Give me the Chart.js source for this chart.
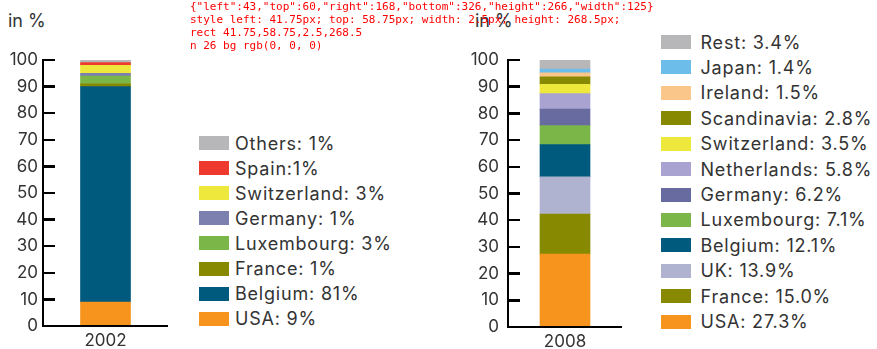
<!DOCTYPE html>
<html>
<head>
<meta charset="utf-8">
<script src="https://cdn.jsdelivr.net/npm/chart.js@4.4.1/dist/chart.umd.min.js"></script>
<style>
  body { margin: 0; background: #fff; }
  #wrap { position: relative; width: 877px; height: 349px; overflow: hidden; font-family: Inter, "Liberation Sans", sans-serif; color: #333; }
  #c2002 { position: absolute; left: 0; top: 0; }
  #c2008 { position: absolute; left: 440px; top: 0; }
  .unit { position: absolute; top: 12px; font-size: 18px; line-height: 18px; }
  .axis { position: absolute; background: #000; }
  .legend { position: absolute; margin: 0; padding: 0; list-style: none; font-size: 18px; letter-spacing: 0.8px; }
  .legend li { display: flex; align-items: center; white-space: nowrap; }
  .legend .box { display: inline-block; width: 30px; height: 14px; }
  #l2002 { left: 199px; top: 130.5px; }
  #l2002 li { height: 25.1px; }
  #l2002 .box { margin-right: 6px; }
  #l2008 { left: 661px; top: 29.3px; }
  #l2008 li { height: 25.43px; }
  #l2008 .box { margin-right: 9.5px; }
  #dbg { position: absolute; left: 190px; top: 0; font: 11px monospace; color: red; white-space: pre; }
</style>
</head>
<body>
<div id="wrap">
  <div class="unit" style="left:8px">in %</div>
  <div class="unit" style="left:475px">in %</div>
  <canvas id="c2002" width="190" height="349"></canvas>
  <canvas id="c2008" width="200" height="349"></canvas>
  <ul class="legend" id="l2002"></ul>
  <ul class="legend" id="l2008"></ul>
  <div id="dbg"></div>
</div>
<script>
const years2002 = ["2002"];
const names2002 = ["USA", "Belgium", "France", "Luxembourg", "Germany", "Switzerland", "Spain", "Others"];
const shares2002 = [9, 81, 1, 3, 1, 3, 1, 1];
const labels2002 = ["USA: 9%", "Belgium: 81%", "France: 1%", "Luxembourg: 3%", "Germany: 1%", "Switzerland: 3%", "Spain:1%", "Others: 1%"];
const colors2002 = ["#F7941E", "#005A7D", "#878A01", "#7AB648", "#7C80AE", "#EDE83B", "#EE3A2E", "#B7B7B9"];

const years2008 = ["2008"];
const names2008 = ["USA", "France", "UK", "Belgium", "Luxembourg", "Germany", "Netherlands", "Switzerland", "Scandinavia", "Ireland", "Japan", "Rest"];
const shares2008 = [27.3, 15.0, 13.9, 12.1, 7.1, 6.2, 5.8, 3.5, 2.8, 1.5, 1.4, 3.4];
const labels2008 = ["USA: 27.3%", "France: 15.0%", "UK: 13.9%", "Belgium: 12.1%", "Luxembourg: 7.1%", "Germany: 6.2%", "Netherlands: 5.8%", "Switzerland: 3.5%", "Scandinavia: 2.8%", "Ireland: 1.5%", "Japan: 1.4%", "Rest: 3.4%"];
const colors2008 = ["#F7941E", "#878A01", "#B0B3D0", "#005A7D", "#7AB648", "#676B9F", "#A8A3D1", "#EDE83B", "#878A01", "#FBC68A", "#6DBDEA", "#B7B7B9"];

const yTicks = { min: 0, max: 100, step: 10 };
const textColor = "#333";
const fontFamily = "Inter, 'Liberation Sans', sans-serif";

function stackedBar(canvasId, years, names, shares, colors, box) {
  const datasets = names.map((name, i) => ({
    label: name, data: [shares[i]], backgroundColor: colors[i], borderWidth: 0, barThickness: 50
  }));
  return new Chart(document.getElementById(canvasId), {
    type: "bar",
    data: { labels: years, datasets },
    options: {
      responsive: false,
      animation: false,
      layout: { padding: { left: 0, right: box.padRight, top: box.top, bottom: 0 } },
      plugins: { legend: { display: false }, tooltip: { enabled: false } },
      scales: {
        x: {
          stacked: true,
          grid: { display: false, drawTicks: false },
          border: { display: false },
          ticks: { padding: 5, color: textColor, font: { family: fontFamily, size: 17 } },
          afterFit: s => { s.height = 349 - box.bottom; }
        },
        y: {
          stacked: true, min: yTicks.min, max: yTicks.max,
          grid: { display: false, drawTicks: false },
          border: { display: false },
          ticks: { stepSize: yTicks.step, padding: box.tickPad, color: textColor, font: { family: fontFamily, size: 17 } },
          afterFit: s => { s.width = box.axisX; }
        }
      }
    }
  });
}

function drawAxes(chart, offsetX) {
  const wrap = document.getElementById("wrap");
  const { left, right, top, bottom } = chart.chartArea;
  const y = chart.scales.y;
  const lw = 2.5;
  const bar = (x, yy, w, h) => {
    const d = document.createElement("div");
    d.className = "axis";
    d.style.left = x + "px"; d.style.top = yy + "px";
    d.style.width = w + "px"; d.style.height = h + "px";
    wrap.appendChild(d);
    return d;
  };
  const v = bar(offsetX + left - lw / 2, top - lw / 2, lw, bottom - top + lw);
  bar(offsetX + left - lw / 2, bottom - lw / 2, right - left + lw / 2, lw);
  y.ticks.forEach(t => { bar(offsetX + left, y.getPixelForValue(t.value) - lw / 2, 12, lw); });
  return v;
}

function fillLegend(listId, labels, colors) {
  const ul = document.getElementById(listId);
  for (let i = labels.length - 1; i >= 0; i--) {
    const li = document.createElement("li");
    const sw = document.createElement("span");
    sw.className = "box"; sw.style.background = colors[i];
    li.appendChild(sw);
    li.appendChild(document.createTextNode(labels[i]));
    ul.appendChild(li);
  }
}

const chart2002 = stackedBar("c2002", years2002, names2002, shares2002, colors2002,
  { axisX: 43, padRight: 22, tickPad: 5, top: 60, bottom: 326 });
const chart2008 = stackedBar("c2008", years2008, names2008, shares2008, colors2008,
  { axisX: 68, padRight: 18, tickPad: 9, top: 60, bottom: 327 });

const v1 = drawAxes(chart2002, 0);
drawAxes(chart2008, 440);
fillLegend("l2002", labels2002, colors2002);
fillLegend("l2008", labels2008, colors2008);

const r = v1.getBoundingClientRect();
document.getElementById("dbg").textContent =
  JSON.stringify(chart2002.chartArea) + "\n" +
  "style " + v1.style.cssText + "\n" +
  "rect " + [r.left, r.top, r.width, r.height].join(",") + "\n" +
  "n " + document.querySelectorAll(".axis").length + " bg " + getComputedStyle(v1).backgroundColor;
</script>
</body>
</html>
